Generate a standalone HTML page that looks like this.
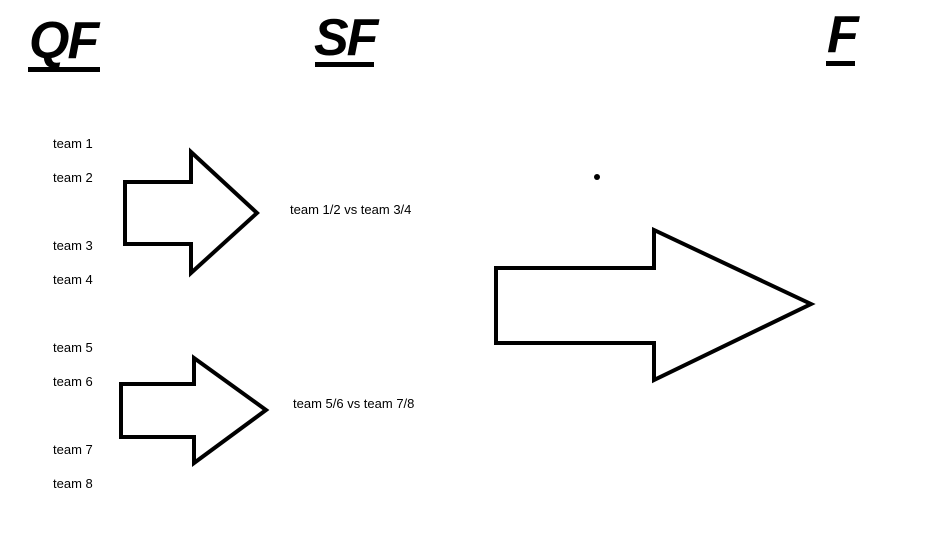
<!DOCTYPE html>
<html><head><style>
body{margin:0;width:943px;height:540px;background:#fff;position:relative;overflow:hidden;font-family:"Liberation Sans",sans-serif}
.h{position:absolute;font-weight:bold;font-style:italic;font-size:52px;line-height:52px;color:#000;letter-spacing:-2px}
.u{position:absolute;background:#000;height:5px}
.t{position:absolute;font-size:13px;line-height:14px;color:#000}
</style></head><body>
<div class="h" style="left:29px;top:15px">QF</div><div class="u" style="left:28px;top:67px;width:72px"></div>
<div class="h" style="left:314px;top:12px">SF</div><div class="u" style="left:315px;top:62px;width:59px"></div>
<div class="h" style="left:827px;top:9px">F</div><div class="u" style="left:826px;top:61px;width:29px"></div>
<div class="t" style="left:53px;top:137px">team 1</div>
<div class="t" style="left:53px;top:171px">team 2</div>
<div class="t" style="left:53px;top:239px">team 3</div>
<div class="t" style="left:53px;top:273px">team 4</div>
<div class="t" style="left:53px;top:341px">team 5</div>
<div class="t" style="left:53px;top:375px">team 6</div>
<div class="t" style="left:53px;top:443px">team 7</div>
<div class="t" style="left:53px;top:477px">team 8</div>
<div class="t" style="left:290px;top:203px">team 1/2 vs team 3/4</div>
<div class="t" style="left:293px;top:397px">team 5/6 vs team 7/8</div>
<svg width="943" height="540" style="position:absolute;left:0;top:0">
<g fill="none" stroke="#000" stroke-width="4" stroke-linejoin="miter">
<polygon points="125,182 191,182 191,152 257,213 191,273 191,244 125,244"/>
<polygon points="121,384 194,384 194,358 266,410 194,463 194,437 121,437"/>
<polygon points="496,268 654,268 654,230 811,304 654,380 654,343 496,343"/>
</g>
<circle cx="597" cy="177" r="3" fill="#000"/>
</svg>
</body></html>
